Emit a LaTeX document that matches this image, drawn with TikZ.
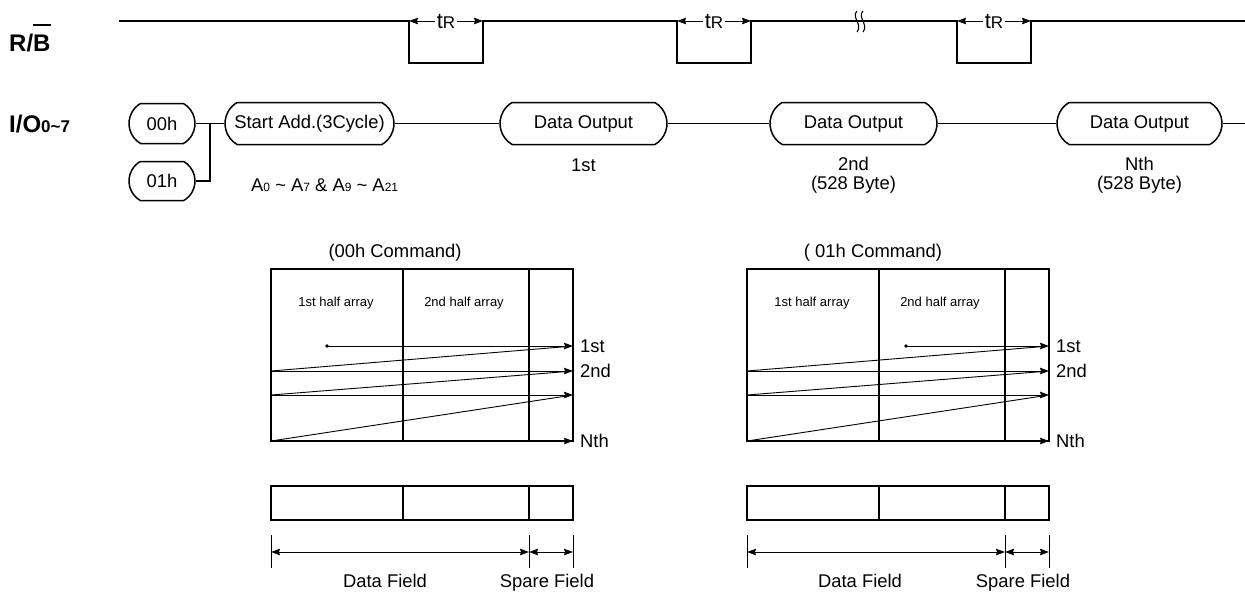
\documentclass[tikz,border=0pt]{standalone}
\usepackage{fontspec}
\setmainfont{Liberation Sans}
\usetikzlibrary{arrows.meta,shapes.misc,calc}
\begin{document}
\begin{tikzpicture}[x=1pt,y=-1pt,
  sig/.style={line width=1.8pt},
  thinln/.style={line width=0.9pt},
  arr/.style={thinln,-{Stealth[length=9pt,width=6.5pt,inset=1pt]}},
  darr/.style={thinln,{Stealth[length=9pt,width=6.5pt,inset=1pt]}-{Stealth[length=9pt,width=6.5pt,inset=1pt]}},
  pill/.style={draw,line width=1.5pt,rounded rectangle,rounded rectangle arc length=120,inner sep=0pt,minimum height=42pt,font=\fontsize{18.4}{20}\selectfont},
  lbl/.style={font=\fontsize{18.4}{22}\selectfont,inner sep=0pt},
  smalltxt/.style={font=\fontsize{13}{15}\selectfont,inner sep=0pt},
  boxln/.style={line width=2pt},
  biglbl/.style={font=\fontsize{24}{26}\selectfont\bfseries,inner sep=0pt,anchor=base west},
]
\useasboundingbox (0,0) rectangle (1245,592);

% ---- left labels
\node[biglbl] (rb) at (9,51) {R/\rlap{\rule[24.8pt]{17.5pt}{2.4pt}}B};
\node[biglbl] (io) at (9,132) {I/O{\fontsize{17}{17}\selectfont 0\textasciitilde 7}};

% ---- R/B signal
\coordinate (s0) at (119,21);
\coordinate (p1a) at (409,21);  \coordinate (p1b) at (483,21);
\coordinate (p2a) at (677,21);  \coordinate (p2b) at (751,21);
\coordinate (p3a) at (957,21);  \coordinate (p3b) at (1031,21);
\coordinate (s1) at (1245,21);
\draw[sig] (s0) -- (p1a) -- ++(0,42) -| (p1b) -- (p2a) -- ++(0,42) -| (p2b)
  -- (p3a) -- ++(0,42) -| (p3b) -- (s1);
\foreach \n/\a/\b in {1/p1a/p1b,2/p2a/p2b,3/p3a/p3b}{
  \node[lbl,inner xsep=2pt] (tr\n) at ($(\a)!0.5!(\b)$) {{\fontsize{22}{22}\selectfont t}{\fontsize{17}{17}\selectfont R}};
  \draw[arr] (tr\n.west) -- (\a);
  \draw[arr] (tr\n.east) -- (\b);
}
% break mark
\draw[line width=1.1pt] (857,11) .. controls (851,17) and (863,25) .. (857,32);
\draw[line width=1.1pt] (863,11) .. controls (857,17) and (869,25) .. (863,32);

% ---- I/O row
\node[pill,minimum width=66pt,minimum height=40pt] (c00) at (162,123.5) {00h};
\node[pill,minimum width=66pt,minimum height=39pt] (c01) at (162,181) {01h};
\node[pill,minimum width=169pt] (sa) at (309.5,123.5) {Start Add.(3Cycle)};
\node[pill,minimum width=167pt] (d1) at (583.5,123.5) {Data Output};
\node[pill,minimum width=167pt] (d2) at (853.5,123.5) {Data Output};
\node[pill,minimum width=165pt] (d3) at (1139.5,123.5) {Data Output};
\coordinate (jt) at (210,123.5);
\coordinate (jb) at (210,181);
\coordinate (ioend) at (1245,123.5);
\draw[line width=1.5pt] (c00.east) -- (sa.west);
\draw[line width=1.5pt] (c01.east) -- (jb) -- (jt);
\draw[line width=1.5pt] (sa.east) -- (d1.west);
\draw[line width=1.5pt] (d1.east) -- (d2.west);
\draw[line width=1.5pt] (d2.east) -- (d3.west);
\draw[line width=1.5pt] (d3.east) -- (ioend);

\node[lbl,anchor=base west] (addr) at (251,191) {A{\fontsize{12}{12}\selectfont 0} \textasciitilde{} A{\fontsize{12}{12}\selectfont 7} \& A{\fontsize{12}{12}\selectfont 9} \textasciitilde{} A{\fontsize{12}{12}\selectfont 21}};
\node[lbl,anchor=base] (l1) at (583.5,171.5) {1st};
\node[lbl,anchor=base] (l2) at (853.5,170.5) {2nd};
\node[lbl,anchor=base] (l2b) at (853.5,189) {(528 Byte)};
\node[lbl,anchor=base] (l3) at (1139.5,170.5) {Nth};
\node[lbl,anchor=base] (l3b) at (1139.5,189) {(528 Byte)};

% ---- lower diagrams
\node[lbl] (t00) at (395,253) {(00h Command)};
\node[lbl] (t01) at (873,253) {( 01h Command)};

\foreach \sh/\dx/\dfx in {0/327/385,476/430/384}{
\begin{scope}[xshift=\sh pt]
  \draw[boxln] (271,269) rectangle (573,441);
  \draw[boxln] (403,269) -- (403,441) (529,269) -- (529,441);
  \node[smalltxt] at (336,303) {1st half array};
  \node[smalltxt] at (464,303) {2nd half array};
  \fill (\dx,346) circle (1.8pt);
  \draw[arr] (\dx,346) -- (573,346);
  \draw[arr] (271,371) -- (573,371);
  \draw[arr] (271,395) -- (573,395);
  \draw[arr] (529,441) -- (573,441);
  \draw[thinln] (271,371) -- (571,346.2);
  \draw[thinln] (271,395) -- (571,371.2);
  \draw[thinln] (271,441) -- (571,395.3);
  \node[lbl,anchor=west] at (580,346) {1st};
  \node[lbl,anchor=west] at (580,371) {2nd};
  \node[lbl,anchor=west] at (580,441) {Nth};
  % field bar
  \draw[boxln] (271,486) rectangle (573,520);
  \draw[boxln] (403,486) -- (403,520) (529,486) -- (529,520);
  \draw[thinln] (271,535) -- (271,568) (529,535) -- (529,568) (573,535) -- (573,568);
  \draw[darr] (271,552) -- (529,552);
  \draw[darr] (529,552) -- (573,552);
  \node[lbl,anchor=base] at (\dfx,587) {Data Field};
  \node[lbl,anchor=base] at (547,587) {Spare Field};
\end{scope}}
\end{tikzpicture}
\end{document}
